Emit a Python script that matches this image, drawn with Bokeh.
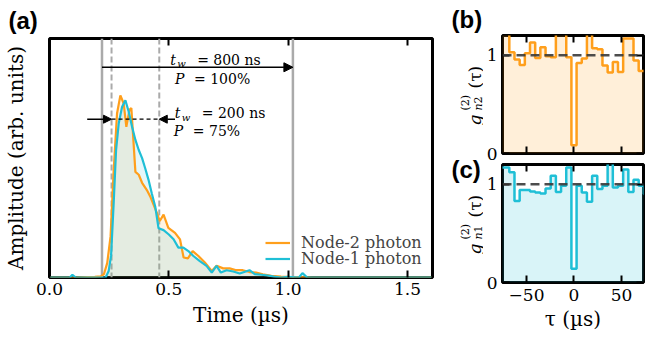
import math
from bokeh.plotting import figure
from bokeh.models import (Span, Arrow, NormalHead, Label, LinearAxis, FixedTicker,
                          Legend, LegendItem, Range1d, PrintfTickFormatter, Title)
from bokeh.layouts import row, column
from bokeh.embed import file_html
from bokeh.resources import INLINE

# ---------------- data ----------------
# (a) photon wave packets, time in microseconds, amplitude in arb. units
t_node2 = [0.00, 0.10, 0.19, 0.215, 0.228, 0.242, 0.256, 0.269, 0.283, 0.297, 0.311,
           0.322, 0.335, 0.343, 0.36, 0.374, 0.388, 0.408, 0.422, 0.436, 0.45, 0.462,
           0.478, 0.498, 0.526, 0.547, 0.562, 0.58, 0.60, 0.624, 0.651, 0.68, 0.70,
           0.728, 0.755, 0.783, 0.81, 0.838, 0.866, 0.894, 0.93, 0.97, 1.0, 1.1, 1.6]
amp_node2 = [0, 0, 0.003, 0.006, 0.018, 0.08, 0.227, 0.59, 0.90, 1.0, 0.955,
             0.827, 0.92, 0.93, 0.58, 0.564, 0.52, 0.48, 0.445, 0.40, 0.355, 0.31,
             0.345, 0.273, 0.245, 0.209, 0.11, 0.105, 0.145, 0.118, 0.082, 0.036, 0.064,
             0.05, 0.05, 0.04, 0.04, 0.03, 0.027, 0.018, 0.009, 0.005, 0.003, 0, 0]
t_node1 = [0.00, 0.085, 0.096, 0.11, 0.235, 0.248, 0.258, 0.269, 0.279, 0.29, 0.304,
           0.318, 0.332, 0.346, 0.36, 0.374, 0.388, 0.401, 0.415, 0.429, 0.443, 0.457,
           0.478, 0.50, 0.52, 0.54, 0.561, 0.582, 0.603, 0.63, 0.658, 0.68, 0.70,
           0.718, 0.742, 0.77, 0.797, 0.838, 0.86, 0.887, 0.915, 0.94, 0.97, 1.0,
           1.045, 1.06, 1.08, 1.6]
amp_node1 = [0, 0, 0.015, 0, 0, 0.036, 0.12, 0.41, 0.70, 0.845, 0.936,
             0.973, 0.91, 0.827, 0.755, 0.70, 0.655, 0.60, 0.536, 0.46, 0.39, 0.27,
             0.26, 0.236, 0.21, 0.164, 0.164, 0.145, 0.118, 0.09, 0.064, 0.027, 0.064,
             0.027, 0.04, 0.033, 0.022, 0.04, 0.018, 0.015, 0.011, 0.005, 0.0, 0.004,
             0.0, 0.024, 0.0, 0]

# detection windows (microseconds)
win_800 = (0.22, 1.02)
win_200 = (0.26, 0.46)
x_ticks_a = [0.0, 0.5, 1.0, 1.5]

# (b), (c) second-order correlation histograms, tau in microseconds
tau_centers = [-81.75, -76.3, -70.85, -65.4, -59.95, -54.5, -49.05, -43.6, -38.15,
               -32.7, -27.25, -21.8, -16.35, -10.9, -5.45, 0.0, 5.45, 10.9, 16.35,
               21.8, 27.25, 32.7, 38.15, 43.6, 49.05, 54.5, 59.95, 65.4, 70.85,
               76.3, 81.75]
g2_node2 = [1.25, 1.25, 1.25, 1.03, 0.955, 0.90, 1.02, 1.13, 0.97, 1.08, 0.99,
            0.98, 1.25, 1.25, 0.98, 0.085, 0.92, 0.965, 1.25, 1.07, 1.06, 0.895,
            0.825, 0.93, 0.83, 1.17, 1.17, 0.945, 0.84, 0.84, 0.84]
g2_node1 = [1.17, 1.17, 1.17, 1.12, 0.83, 0.94, 0.94, 0.925, 0.915, 0.905, 0.955,
            1.085, 0.92, 0.985, 1.17, 0.14, 0.985, 0.915, 0.82, 1.085, 0.95, 0.985,
            1.25, 0.965, 0.985, 1.15, 0.92, 1.045, 0.985, 0.90, 0.90]
tau_ticks = [-50, 0, 50]
g2_ticks = [0, 1]

# ---------------- style ----------------
SERIF = "DejaVu Serif"
SANS = "Liberation Sans"
ORANGE = "#ff9f1c"
CYAN = "#1fbfd6"
GRAY = "#aaaaaa"


def style_axis(ax, ticks, show_labels, tick_in=7):
    ax.ticker = FixedTicker(ticks=ticks)
    ax.axis_line_color = None
    ax.major_tick_in = tick_in
    ax.major_tick_out = 0
    ax.major_tick_line_width = 2
    ax.major_tick_line_color = "black"
    ax.minor_tick_line_color = None
    if show_labels:
        ax.major_label_text_font = SERIF
        ax.major_label_text_font_size = "17px"
        ax.major_label_text_color = "black"
    else:
        ax.major_label_text_font_size = "0px"
        ax.major_label_text_color = None
        ax.major_label_standoff = 0
    ax.axis_label_text_font = SERIF
    ax.axis_label_text_font_size = "20px"
    ax.axis_label_text_font_style = "normal"
    ax.axis_label_text_color = "black"


def base_fig(**kw):
    f = figure(output_backend="svg", toolbar_location=None, **kw)
    f.grid.visible = False
    f.outline_line_color = "black"
    f.outline_line_width = 3
    f.outline_line_alpha = 1
    f.background_fill_color = "white"
    f.border_fill_color = "white"
    return f


def lab(fig, x, y, text, size, style="normal", xo=0, yo=0, font=SERIF, **kw):
    fig.add_layout(Label(x=x, y=y, x_offset=xo, y_offset=yo, text=text,
                         text_font=font, text_font_size=size, text_font_style=style,
                         text_color="black", text_baseline="alphabetic",
                         text_align="left", **kw))


# ---------------- panel (a) ----------------
pa = base_fig(width=450, height=339, x_range=Range1d(0, 1.605), y_range=Range1d(0, 1.312),
              min_border_left=47, min_border_right=18, min_border_top=36, min_border_bottom=62)

for loc in win_800:
    pa.add_layout(Span(location=loc, dimension="height", line_color=GRAY, line_width=2.5,
                       level="underlay"))
for loc in win_200:
    pa.add_layout(Span(location=loc, dimension="height", line_color=GRAY, line_width=2,
                       line_dash="6 3", level="underlay"))

pa.varea(x=t_node2, y1=0, y2=amp_node2, fill_color=ORANGE, fill_alpha=0.12)
pa.varea(x=t_node1, y1=0, y2=amp_node1, fill_color=CYAN, fill_alpha=0.12)
l2 = pa.line(t_node2, amp_node2, line_color=ORANGE, line_width=2.2)
l1 = pa.line(t_node1, amp_node1, line_color=CYAN, line_width=2.2)

style_axis(pa.xaxis[0], x_ticks_a, True)
pa.xaxis[0].formatter = PrintfTickFormatter(format="%.1f")
pa.xaxis[0].major_label_standoff = 5
pa.xaxis[0].axis_label = "Time (µs)"
pa.xaxis[0].axis_label_standoff = 5
style_axis(pa.yaxis[0], [], False)
pa.yaxis[0].axis_label = "Amplitude (arb. units)"
pa.yaxis[0].axis_label_standoff = 22
top_a = LinearAxis()
style_axis(top_a, x_ticks_a[1:], False)
pa.add_layout(top_a, "above")
pa.add_layout(Title(text="(a)", align="left", offset=-41, standoff=9,
                    text_font=SANS, text_font_style="bold", text_font_size="24px",
                    text_color="black"), "above")

# arrows
y_arr1 = 1.154
y_arr2 = 0.869
pa.add_layout(Arrow(end=NormalHead(size=9, fill_color="black", line_color="black"),
                    x_start=win_800[0], y_start=y_arr1, x_end=win_800[1], y_end=y_arr1,
                    line_width=1.5, line_color="black"))
pa.add_layout(Arrow(end=NormalHead(size=8, fill_color="black", line_color="black"),
                    x_start=0.158, y_start=y_arr2, x_end=win_200[0], y_end=y_arr2,
                    line_width=1.5, line_color="black"))
pa.add_layout(Arrow(end=NormalHead(size=8, fill_color="black", line_color="black"),
                    x_start=0.526, y_start=y_arr2, x_end=win_200[1], y_end=y_arr2,
                    line_width=1.5, line_color="black"))
pa.add_layout(Arrow(end=None, x_start=win_200[0], y_start=y_arr2, x_end=win_200[1],
                    y_end=y_arr2, line_width=1.3, line_color="black", line_dash="4 3"))


def tw_block(x1, y1, x2, y2, ns, pct):
    lab(pa, x1, y1, "t", "14px", "italic")
    lab(pa, x1, y1, "w", "10px", "italic", xo=7, yo=-4)
    lab(pa, x1, y1, "= %s ns" % ns, "14px", xo=27)
    lab(pa, x2, y2, "P", "14px", "italic")
    lab(pa, x2, y2, "= %s%%" % pct, "14px", xo=19)


tw_block(0.5055, 1.196, 0.526, 1.09, "800", "100")
tw_block(0.525, 0.903, 0.521, 0.804, "200", "75")


def one_legend(label, rend, y):
    pa.add_layout(Legend(items=[LegendItem(label=label, renderers=[rend])],
                         location=(216, y), background_fill_alpha=0, border_line_alpha=0,
                         label_text_font=SERIF, label_text_font_size="16px",
                         glyph_width=25, glyph_height=15, label_height=15, spacing=0,
                         padding=0, margin=0, label_standoff=11))


one_legend("Node-2 photon", l2, 25)
one_legend("Node-1 photon", l1, 9)

# ---------------- label strip between (a) and (b)/(c) ----------------
strip = figure(width=33, height=339, x_range=Range1d(0, 33), y_range=Range1d(0, 339),
               x_axis_location=None, y_axis_location=None, output_backend="svg",
               toolbar_location=None, min_border=0)
strip.grid.visible = False
strip.outline_line_color = None
strip.background_fill_color = "white"
strip.border_fill_color = "white"

scr = dict(x_units="screen", y_units="screen")
lab(strip, 1, 320, "(b)", "24px", "bold", font=SANS, **scr)
lab(strip, 1, 170, "(c)", "24px", "bold", font=SANS, **scr)


def g2_ylabel(y0, node):
    rot = dict(x_units="screen", y_units="screen", angle=math.pi / 2)
    lab(strip, 24, y0, "g", "17px", "italic", **rot)
    lab(strip, 14.5, y0 + 15, "(2)", "11px", **rot)
    lab(strip, 27.5, y0 + 15, "n", "11px", "italic", **rot)
    lab(strip, 27.5, y0 + 22, node, "11px", **rot)
    lab(strip, 24, y0 + 37, "(τ)", "17px", **rot)


g2_ylabel(214, "2")
g2_ylabel(85, "1")


# ---------------- panels (b), (c) ----------------
def g2_panel(height, mb_top, mb_bottom, values, color, show_x):
    f = base_fig(width=162, height=height, x_range=Range1d(-75.3, 73.2),
                 y_range=Range1d(0, 1.2), min_border_left=16, min_border_right=2,
                 min_border_top=mb_top, min_border_bottom=mb_bottom)
    f.varea_step(x=tau_centers, y1=0, y2=values, step_mode="center",
                 fill_color=color, fill_alpha=0.17)
    f.step(tau_centers, values, mode="center", line_color=color, line_width=2.5)
    f.add_layout(Span(location=1, dimension="width", line_color="#3a3a3a",
                      line_alpha=0.9, line_width=2.5, line_dash="9 5"))
    style_axis(f.xaxis[0], tau_ticks, show_x)
    if show_x:
        f.xaxis[0].major_label_overrides = {-50: "\u221250", 0: "0", 50: "50"}
        f.xaxis[0].major_label_standoff = 6
        f.xaxis[0].axis_label = "τ (µs)"
        f.xaxis[0].axis_label_standoff = 3
    style_axis(f.yaxis[0], g2_ticks, True)
    f.yaxis[0].major_label_standoff = 5
    top = LinearAxis()
    style_axis(top, tau_ticks, False)
    f.add_layout(top, "above")
    right = LinearAxis()
    style_axis(right, g2_ticks, False)
    f.add_layout(right, "right")
    return f


pb = g2_panel(160, 35, 7, g2_node2, ORANGE, False)
pc = g2_panel(179, 4, 57, g2_node1, CYAN, True)

layout = row(pa, column(strip), column(pb, pc))
open("out.html", "w").write(file_html(layout, INLINE))
